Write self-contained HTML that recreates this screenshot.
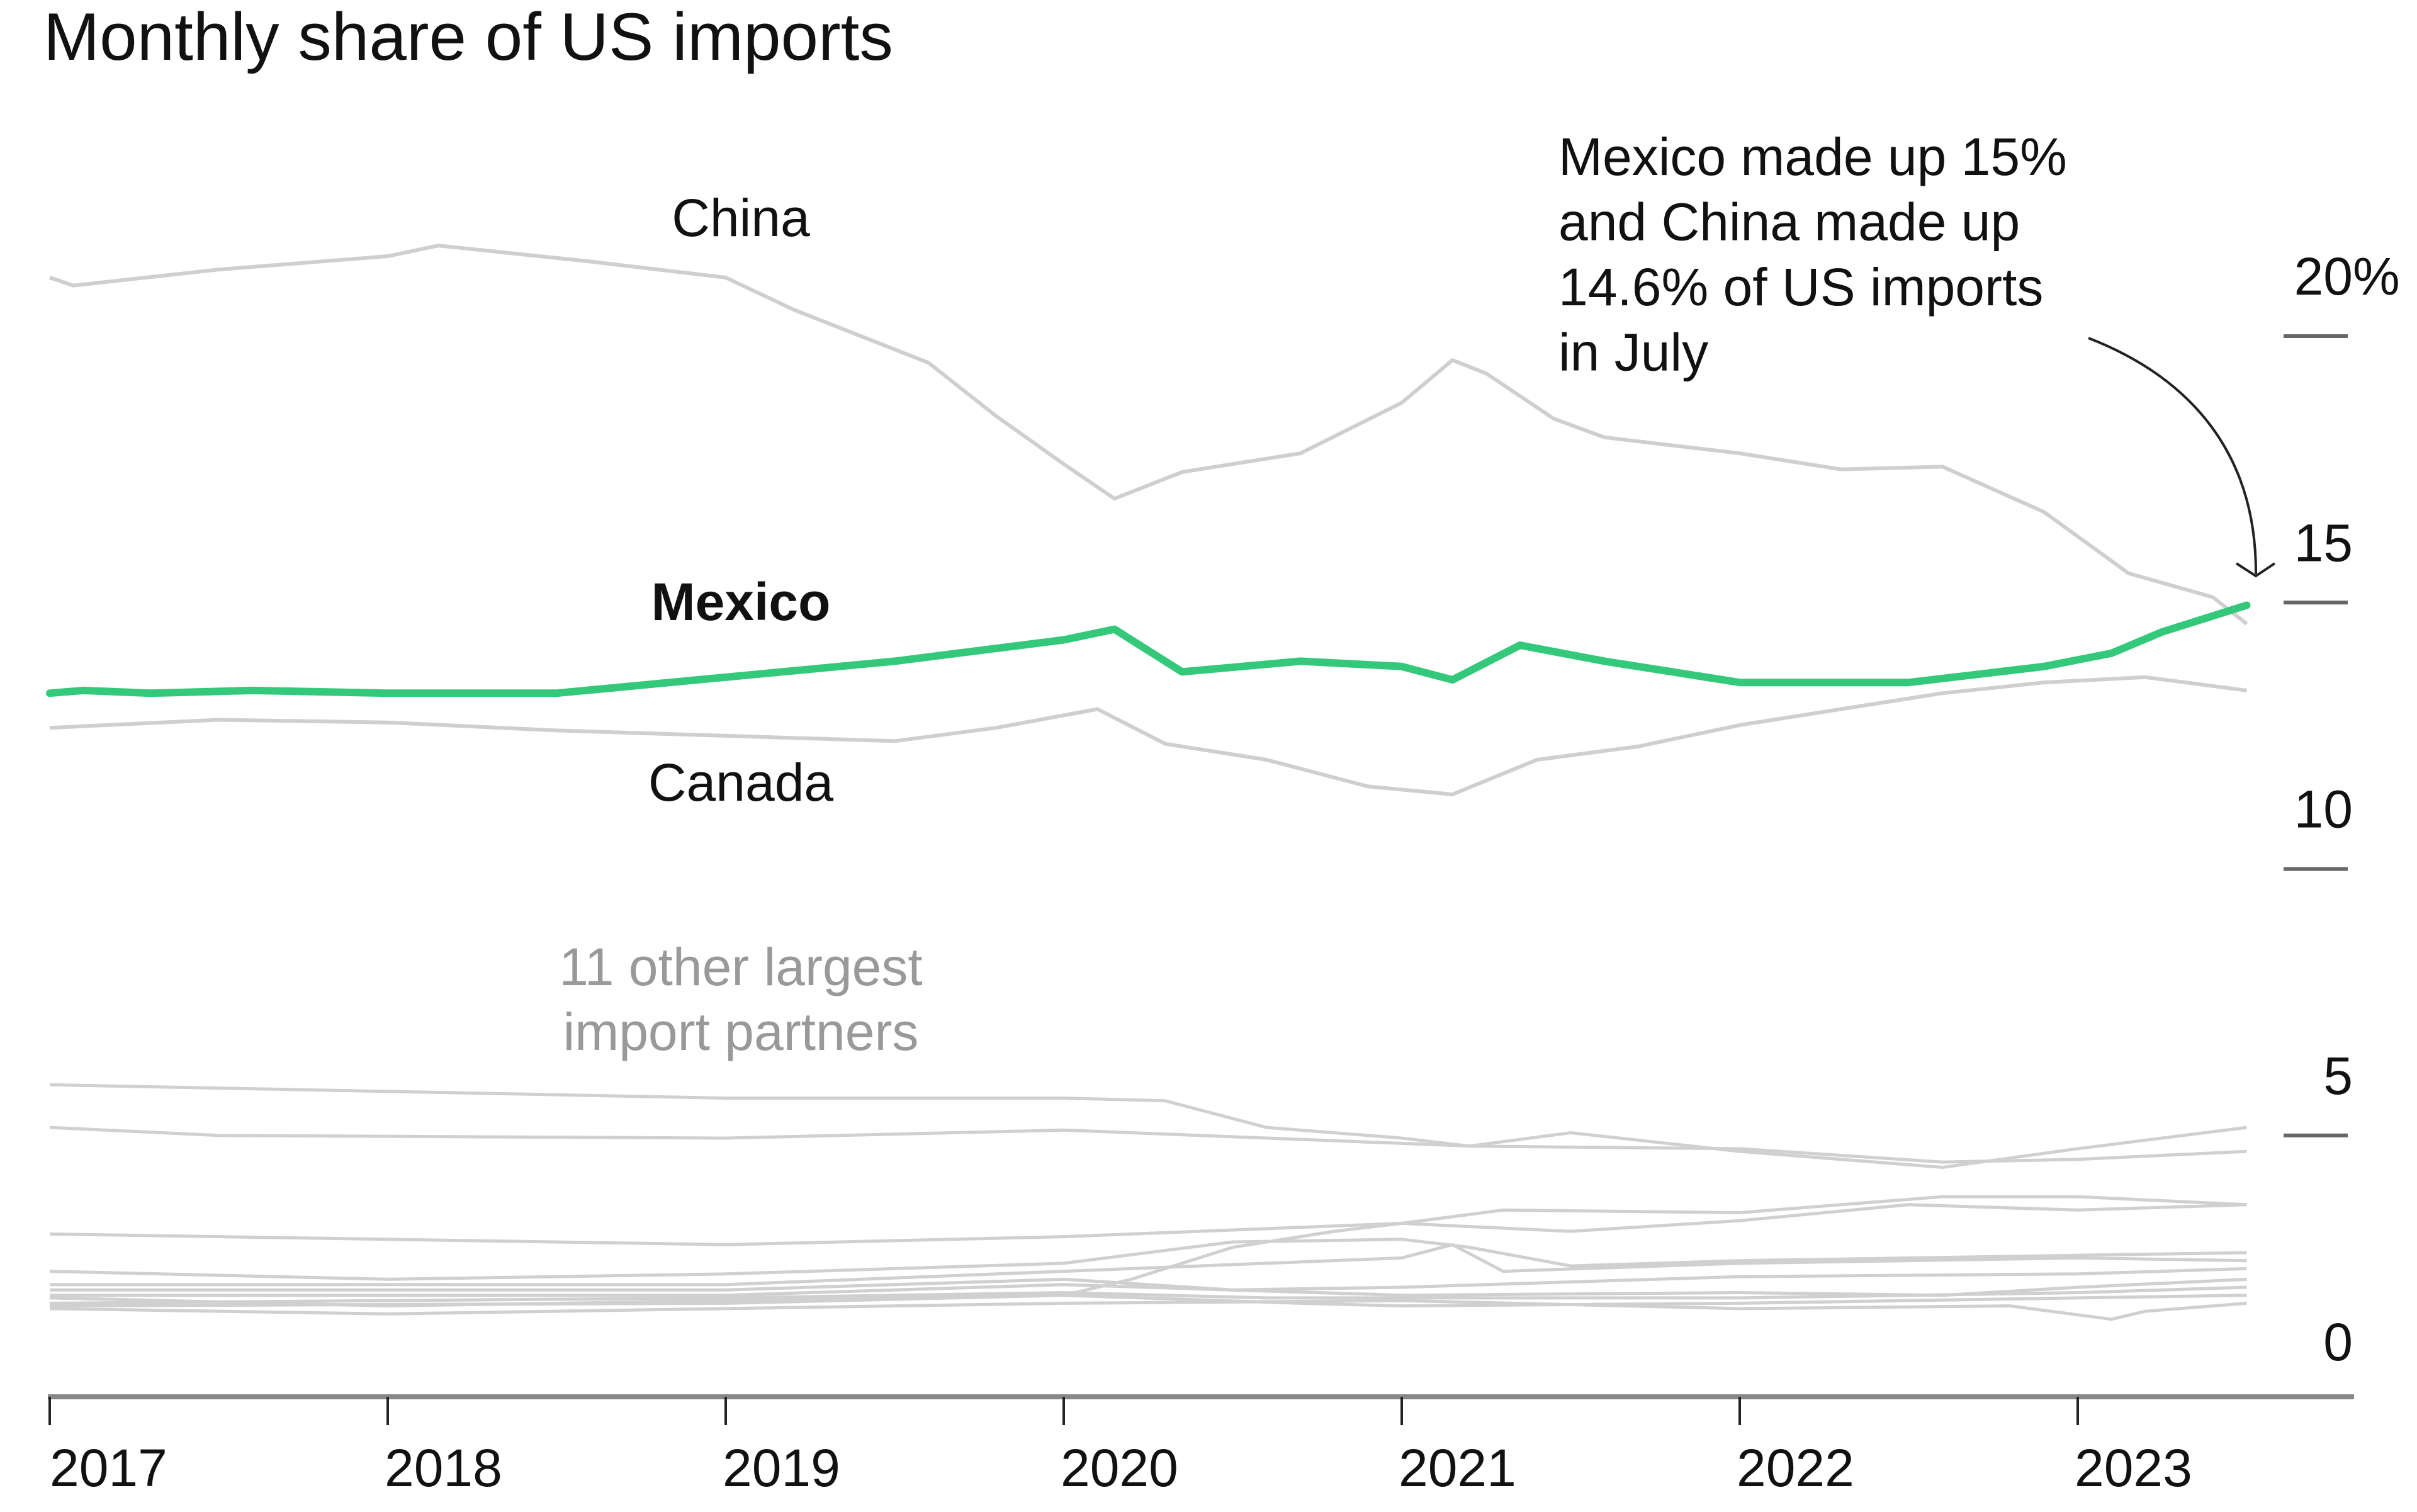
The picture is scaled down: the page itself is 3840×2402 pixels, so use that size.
<!DOCTYPE html>
<html><head><meta charset="utf-8"><style>
html,body{margin:0;padding:0;background:#fff;}
svg{display:block;font-family:"Liberation Sans",Arial,sans-serif;}
</style></head><body>
<svg id="chart" width="3840" height="2402" viewBox="0 0 3840 2402">
<text x="69" y="95" font-size="107" fill="#111">Monthly share of US imports</text>
<g id="grid"></g><g id="others"></g><g id="main"></g><g id="labels"></g>
</svg>
<script>
const yTicks=[0,5,10,15,20];
const yTickLabels=["0","5","10","15","20"];
const xYears=[2017,2018,2019,2020,2021,2022,2023];
const mexicoDates=[2017,2017.1,2017.3,2017.6,2018,2018.5,2019,2019.5,2019.75,2020,2020.15,2020.35,2020.7,2021,2021.15,2021.35,2021.6,2022,2022.5,2022.9,2023.1,2023.25,2023.5];
const mexicoValues=[13.3,13.35,13.3,13.35,13.3,13.3,13.6,13.9,14.1,14.3,14.5,13.7,13.9,13.8,13.55,14.2,13.9,13.5,13.5,13.8,14.05,14.45,14.95];
const chinaDates=[2017,2017.07,2017.5,2018,2018.15,2018.6,2019,2019.2,2019.6,2019.8,2020,2020.15,2020.35,2020.7,2021,2021.15,2021.25,2021.45,2021.6,2022,2022.3,2022.6,2022.9,2023.15,2023.4,2023.5];
const chinaValues=[21.1,20.95,21.25,21.5,21.7,21.4,21.1,20.5,19.5,18.5,17.6,16.95,17.45,17.8,18.75,19.55,19.3,18.45,18.1,17.8,17.5,17.55,16.7,15.55,15.1,14.6];
const canadaDates=[2017,2017.5,2018,2018.5,2019,2019.5,2019.8,2020.1,2020.3,2020.6,2020.9,2021.15,2021.4,2021.7,2022,2022.3,2022.6,2022.9,2023.2,2023.5];
const canadaValues=[12.65,12.8,12.75,12.6,12.5,12.4,12.65,13.0,12.35,12.05,11.55,11.4,12.05,12.3,12.7,13.0,13.3,13.5,13.6,13.35];
const otherDates=[[2017,2019,2020,2020.3,2020.6,2021,2021.2,2021.5,2022,2022.6,2023,2023.5],[2017,2017.5,2019,2020,2021,2021.2,2022,2022.6,2023,2023.5],[2017,2018,2019,2020,2021,2021.3,2022,2022.6,2023,2023.5],[2017,2018,2019,2020,2020.2,2020.5,2020.8,2021,2021.5,2022,2022.5,2023,2023.5],[2017,2018,2019,2020,2020.5,2021,2021.2,2021.5,2022,2023,2023.5],[2017,2019,2020,2021,2021.15,2021.3,2022,2023,2023.5],[2017,2019,2020,2020.5,2021,2022,2023,2023.5],[2017,2019,2020,2021,2022,2022.6,2023,2023.5],[2017,2019,2020,2020.6,2021,2022,2023,2023.5],[2017,2019,2020,2020.7,2021,2022,2023,2023.5],[2017,2018,2019,2020,2021,2022,2022.8,2023.1,2023.2,2023.5]];
const otherValues=[[5.95,5.7,5.7,5.65,5.15,4.95,4.8,5.05,4.7,4.4,4.75,5.15],[5.15,5.0,4.95,5.1,4.85,4.8,4.75,4.5,4.55,4.7],[3.15,3.05,2.95,3.1,3.35,3.6,3.55,3.85,3.85,3.7],[1.95,1.8,1.9,2.0,2.3,2.9,3.2,3.35,3.2,3.4,3.7,3.6,3.7],[2.45,2.3,2.4,2.6,3.0,3.05,2.9,2.55,2.65,2.75,2.8],[2.2,2.2,2.45,2.7,2.95,2.45,2.6,2.7,2.65],[2.1,2.1,2.3,2.1,2.15,2.35,2.4,2.5],[2.0,2.0,2.2,2.0,2.05,2.0,2.15,2.3],[1.85,1.95,2.05,1.95,1.95,1.95,2.05,2.15],[1.8,1.85,2.0,1.85,1.8,1.85,1.95,2.0],[1.75,1.65,1.75,1.85,1.9,1.75,1.8,1.55,1.7,1.85]];

const NS="http://www.w3.org/2000/svg";
function xs(t){return 79+(t-2017)*537;}
function ys(v){return 2227-v*84.65;}
function mk(tag,attrs,parent){const e=document.createElementNS(NS,tag);for(const k in attrs)e.setAttribute(k,attrs[k]);parent.appendChild(e);return e;}
function pathD(d,v){return d.map((t,i)=>(i?"L":"M")+xs(t).toFixed(1)+","+ys(v[i]).toFixed(1)).join("");}
const grid=document.getElementById('grid'),others=document.getElementById('others'),main=document.getElementById('main'),labels=document.getElementById('labels');

yTicks.forEach((v,i)=>{
  if(v>0){const l=mk('line',{x1:3628,x2:3730,y1:ys(v),y2:ys(v),stroke:'#666','stroke-width':6},grid);
  
  }
  const t=mk('text',{x:3738,y:ys(v)-66,'font-size':84,'text-anchor':'end',fill:'#111'},grid);
  t.textContent=yTickLabels[i];
  
  
  if(v===20){const p=mk('text',{x:3738,y:ys(v)-66,'font-size':84,fill:'#111'},grid);p.textContent='%';
  
  }
});
const ax=mk('line',{x1:76,x2:3740,y1:2219,y2:2219,stroke:'#888','stroke-width':8},grid);


xYears.forEach(y=>{
  const l=mk('line',{x1:xs(y),x2:xs(y),y1:2219,y2:2264,stroke:'#222','stroke-width':4},grid);
  
  
  const t=mk('text',{x:xs(y)+(y===2017?0:-5),y:2361,'font-size':84,fill:'#111'},grid);
  t.textContent=y;
  
  
});
otherDates.forEach((d,i)=>{
  const p=mk('path',{d:pathD(d,otherValues[i]),fill:'none',stroke:'#d0d0d0','stroke-width':5,'stroke-linejoin':'round'},others);
  
  
});
const cn=mk('path',{d:pathD(chinaDates,chinaValues),fill:'none',stroke:'#cfcfcf','stroke-width':6,'stroke-linejoin':'round'},main);


const ca=mk('path',{d:pathD(canadaDates,canadaValues),fill:'none',stroke:'#cfcfcf','stroke-width':6,'stroke-linejoin':'round'},main);


const mx=mk('path',{d:pathD(mexicoDates,mexicoValues),fill:'none',stroke:'#34c97a','stroke-width':12,'stroke-linejoin':'round','stroke-linecap':'round'},main);



function lbl(txt,x,y,opts,name){const t=mk('text',Object.assign({x:x,y:y,'font-size':84,fill:'#111','text-anchor':'middle'},opts),labels);t.textContent=txt;

return t;}
lbl('China',1177,375,{},'china-label');
lbl('Mexico',1177,985,{'font-weight':'bold'},'mexico-label');
lbl('Canada',1177,1272,{},'canada-label');
lbl('11 other largest',1177,1565,{fill:'#999'},'others-label-line1');
lbl('import partners',1177,1668,{fill:'#999'},'others-label-line2');
['Mexico made up 15%','and China made up','14.6% of US imports','in July'].forEach((s,i)=>{
  lbl(s,2476,278+i*103.5,{'text-anchor':'start'},'annotation-line-'+(i+1));
});
const arr=mk('path',{d:'M3318,537 C3480,600 3585,720 3584,912',fill:'none',stroke:'#222','stroke-width':4},labels);


const ah=mk('path',{d:'M3553,895 L3584,915 L3614,895',fill:'none',stroke:'#222','stroke-width':4},labels);


</script>
</body></html>
